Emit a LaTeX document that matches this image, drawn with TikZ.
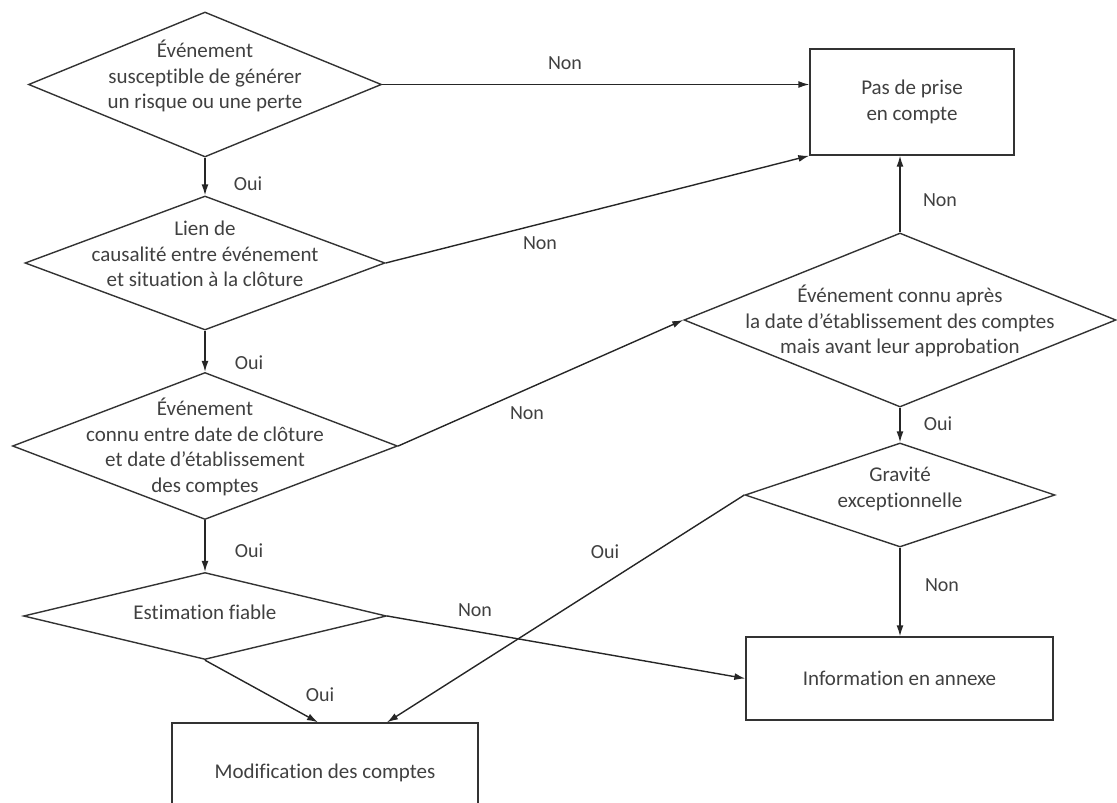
\documentclass[tikz,border=0pt]{standalone}
\usepackage{fontspec}
\setmainfont{Carlito}[Ligatures=NoCommon]
\usetikzlibrary{shapes.geometric,arrows.meta}
\begin{document}
\begin{tikzpicture}[x=1pt,y=-1pt,
  dia/.style={diamond, draw=black!80, line width=1.4pt, inner sep=0pt},
  box/.style={rectangle, draw=black!80, line width=1.4pt, inner sep=0pt, align=center, text=black!75, font=\fontsize{21}{25.5}\selectfont},
  txt/.style={align=center, text=black!75, font=\fontsize{21}{25.5}\selectfont, inner sep=0pt},
  arr/.style={draw=black!85, line width=1.4pt, -{Latex[length=11pt,width=7pt]}},
  lbl/.style={text=black!75, font=\fontsize{20}{24}\selectfont, inner sep=0pt}]
\useasboundingbox (0,0) rectangle (1117,803);
\clip (0,0) rectangle (1117,803);

% decision diamonds
\node[dia, minimum width=353pt, minimum height=145pt] (d1) at (205,84.5) {};
\node[dia, minimum width=360pt, minimum height=134pt] (d2) at (205,263) {};
\node[dia, minimum width=385pt, minimum height=147pt] (d3) at (205,446) {};
\node[dia, minimum width=363pt, minimum height=87pt] (d4) at (205,616) {};
\node[dia, minimum width=432pt, minimum height=174pt] (d5) at (900,320) {};
\node[dia, minimum width=310pt, minimum height=104pt] (d6) at (900,495) {};

\node[txt] (t1) at (205,76) {Événement\\susceptible de générer\\un risque ou une perte};
\node[txt] (t2) at (205,254) {Lien de\\causalité entre événement\\et situation à la clôture};
\node[txt] (t3) at (205,447) {Événement\\connu entre date de clôture\\et date d'établissement\\des comptes};
\node[txt] (t4) at (205,612) {Estimation fiable};
\node[txt] (t5) at (900,321) {Événement connu après\\la date d'établissement des comptes\\mais avant leur approbation};
\node[txt] (t6) at (900,489) {Gravité\\exceptionnelle};

% boxes
\node[box, minimum width=204pt, minimum height=106pt] (pas) at (912,102) {Pas de prise\\en compte};
\node[box, minimum width=307pt, minimum height=83pt] (info) at (899.5,678.5) {Information en annexe};
\node[box, minimum width=306pt, minimum height=100pt] (modif) at (325,773) {Modification des comptes};

% connectors
\draw[arr] (d1.south) -- (d2.north);
\draw[arr] (d2.south) -- (d3.north);
\draw[arr] (d3.south) -- (d4.north);
\draw[arr] (d4.south) -- ([xshift=-7pt]modif.north);
\draw[arr] (d1.east) -- (d1.east -| pas.west);
\draw[arr] (d2.east) -- (pas.south west);
\draw[arr] (d5.north) -- (d5.north |- pas.south);
\draw[arr] (d3.east) -- (d5.west);
\draw[arr] (d5.south) -- (d6.north);
\draw[arr] (d6.south) -- (d6.south |- info.north);
\draw[arr] (d4.east) -- (info.west);
\draw[arr] (d6.west) -- ([xshift=62pt]modif.north);

% connector labels
\node[lbl] (l1) at (248,184) {Oui};
\node[lbl] (l2) at (249,363) {Oui};
\node[lbl] (l3) at (249,551) {Oui};
\node[lbl] (l4) at (320,695) {Oui};
\node[lbl] (l5) at (565,63) {Non};
\node[lbl] (l6) at (540,243) {Non};
\node[lbl] (l7) at (527,413) {Non};
\node[lbl] (l8) at (940,200) {Non};
\node[lbl] (l9) at (938,424) {Oui};
\node[lbl] (l10) at (942,585) {Non};
\node[lbl] (l11) at (475,610) {Non};
\node[lbl] (l12) at (605,552) {Oui};
\end{tikzpicture}
\end{document}
